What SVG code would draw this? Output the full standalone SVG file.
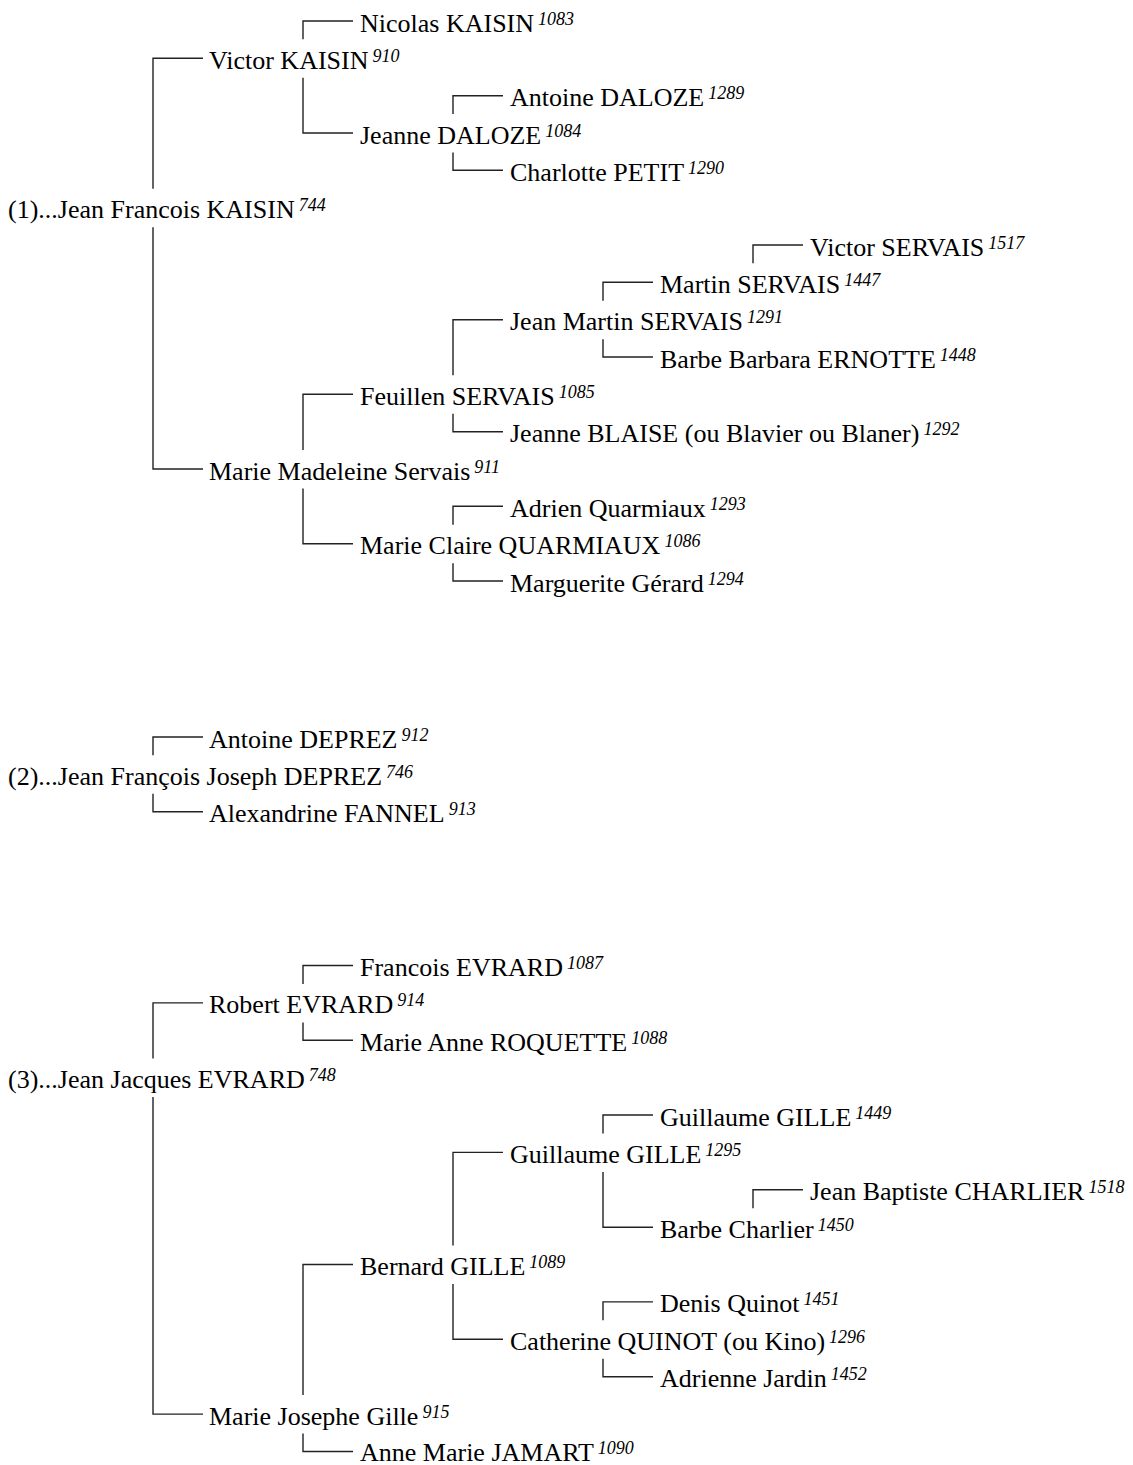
<svg xmlns="http://www.w3.org/2000/svg" width="1133" height="1465" viewBox="0 0 1133 1465">
<style>
.n { font-family: "Liberation Serif", "Times New Roman", serif; font-size: 26px; fill: #000; }
.s { font-size: 18px; font-style: italic; }
#connectors path { fill: none; stroke: #222; stroke-width: 1.4; }
</style>
<rect width="1133" height="1465" fill="#fff"/>
<g id="connectors">
<path d="M153,188.7 V58.3 H203"/>
<path d="M153,227.2 V469 H203"/>
<path d="M303,39.3 V21 H353"/>
<path d="M303,77.8 V133 H353"/>
<path d="M453,114 V95.7 H503"/>
<path d="M453,152.5 V170.3 H503"/>
<path d="M303,450 V394.3 H353"/>
<path d="M303,488.5 V543.7 H353"/>
<path d="M453,375.3 V319.7 H503"/>
<path d="M453,413.8 V431.7 H503"/>
<path d="M603,300.7 V282.3 H653"/>
<path d="M603,339.2 V357 H653"/>
<path d="M753,263.3 V245 H803"/>
<path d="M453,524.7 V506.3 H503"/>
<path d="M453,563.2 V581 H503"/>
<path d="M153,755.3 V737 H203"/>
<path d="M153,793.8 V811.7 H203"/>
<path d="M153,1058.6 V1002.9 H203"/>
<path d="M153,1097.1 V1414.1 H203"/>
<path d="M303,983.9 V965.5 H353"/>
<path d="M303,1022.4 V1040.3 H353"/>
<path d="M303,1395.1 V1264.5 H353"/>
<path d="M303,1433.6 V1451.5 H353"/>
<path d="M453,1245.5 V1152.4 H503"/>
<path d="M453,1284 V1339.3 H503"/>
<path d="M603,1133.4 V1115 H653"/>
<path d="M603,1171.9 V1227.2 H653"/>
<path d="M753,1208.2 V1189.8 H803"/>
<path d="M603,1320.3 V1301.9 H653"/>
<path d="M603,1358.8 V1376.7 H653"/>
</g>
<g id="p1083"><text class="n" x="360" y="31.5">Nicolas KAISIN<tspan class="s" dx="4" dy="-7">1083</tspan></text></g>
<g id="p910"><text class="n" x="209" y="68.8">Victor KAISIN<tspan class="s" dx="4" dy="-7">910</tspan></text></g>
<g id="p1289"><text class="n" x="510" y="106.2">Antoine DALOZE<tspan class="s" dx="4" dy="-7">1289</tspan></text></g>
<g id="p1084"><text class="n" x="360" y="143.5">Jeanne DALOZE<tspan class="s" dx="4" dy="-7">1084</tspan></text></g>
<g id="p1290"><text class="n" x="510" y="180.8">Charlotte PETIT<tspan class="s" dx="4" dy="-7">1290</tspan></text></g>
<g id="p744"><text class="n" x="8" y="218.2">(1)...Jean Francois KAISIN<tspan class="s" dx="4" dy="-7">744</tspan></text></g>
<g id="p1517"><text class="n" x="810" y="255.5">Victor SERVAIS<tspan class="s" dx="4" dy="-7">1517</tspan></text></g>
<g id="p1447"><text class="n" x="660" y="292.8">Martin SERVAIS<tspan class="s" dx="4" dy="-7">1447</tspan></text></g>
<g id="p1291"><text class="n" x="510" y="330.2">Jean Martin SERVAIS<tspan class="s" dx="4" dy="-7">1291</tspan></text></g>
<g id="p1448"><text class="n" x="660" y="367.5">Barbe Barbara ERNOTTE<tspan class="s" dx="4" dy="-7">1448</tspan></text></g>
<g id="p1085"><text class="n" x="360" y="404.8">Feuillen SERVAIS<tspan class="s" dx="4" dy="-7">1085</tspan></text></g>
<g id="p1292"><text class="n" x="510" y="442.2">Jeanne BLAISE (ou Blavier ou Blaner)<tspan class="s" dx="4" dy="-7">1292</tspan></text></g>
<g id="p911"><text class="n" x="209" y="479.5">Marie Madeleine Servais<tspan class="s" dx="4" dy="-7">911</tspan></text></g>
<g id="p1293"><text class="n" x="510" y="516.8">Adrien Quarmiaux<tspan class="s" dx="4" dy="-7">1293</tspan></text></g>
<g id="p1086"><text class="n" x="360" y="554.2">Marie Claire QUARMIAUX<tspan class="s" dx="4" dy="-7">1086</tspan></text></g>
<g id="p1294"><text class="n" x="510" y="591.5">Marguerite Gérard<tspan class="s" dx="4" dy="-7">1294</tspan></text></g>
<g id="p912"><text class="n" x="209" y="747.5">Antoine DEPREZ<tspan class="s" dx="4" dy="-7">912</tspan></text></g>
<g id="p746"><text class="n" x="8" y="784.8">(2)...Jean François Joseph DEPREZ<tspan class="s" dx="4" dy="-7">746</tspan></text></g>
<g id="p913"><text class="n" x="209" y="822.2">Alexandrine FANNEL<tspan class="s" dx="4" dy="-7">913</tspan></text></g>
<g id="p1087"><text class="n" x="360" y="976">Francois EVRARD<tspan class="s" dx="4" dy="-7">1087</tspan></text></g>
<g id="p914"><text class="n" x="209" y="1013.4">Robert EVRARD<tspan class="s" dx="4" dy="-7">914</tspan></text></g>
<g id="p1088"><text class="n" x="360" y="1050.8">Marie Anne ROQUETTE<tspan class="s" dx="4" dy="-7">1088</tspan></text></g>
<g id="p748"><text class="n" x="8" y="1088.1">(3)...Jean Jacques EVRARD<tspan class="s" dx="4" dy="-7">748</tspan></text></g>
<g id="p1449"><text class="n" x="660" y="1125.5">Guillaume GILLE<tspan class="s" dx="4" dy="-7">1449</tspan></text></g>
<g id="p1295"><text class="n" x="510" y="1162.9">Guillaume GILLE<tspan class="s" dx="4" dy="-7">1295</tspan></text></g>
<g id="p1518"><text class="n" x="810" y="1200.3">Jean Baptiste CHARLIER<tspan class="s" dx="4" dy="-7">1518</tspan></text></g>
<g id="p1450"><text class="n" x="660" y="1237.7">Barbe Charlier<tspan class="s" dx="4" dy="-7">1450</tspan></text></g>
<g id="p1089"><text class="n" x="360" y="1275">Bernard GILLE<tspan class="s" dx="4" dy="-7">1089</tspan></text></g>
<g id="p1451"><text class="n" x="660" y="1312.4">Denis Quinot<tspan class="s" dx="4" dy="-7">1451</tspan></text></g>
<g id="p1296"><text class="n" x="510" y="1349.8">Catherine QUINOT (ou Kino)<tspan class="s" dx="4" dy="-7">1296</tspan></text></g>
<g id="p1452"><text class="n" x="660" y="1387.2">Adrienne Jardin<tspan class="s" dx="4" dy="-7">1452</tspan></text></g>
<g id="p915"><text class="n" x="209" y="1424.6">Marie Josephe Gille<tspan class="s" dx="4" dy="-7">915</tspan></text></g>
<g id="p1090"><text class="n" x="360" y="1461">Anne Marie JAMART<tspan class="s" dx="4" dy="-7">1090</tspan></text></g>
</svg>
